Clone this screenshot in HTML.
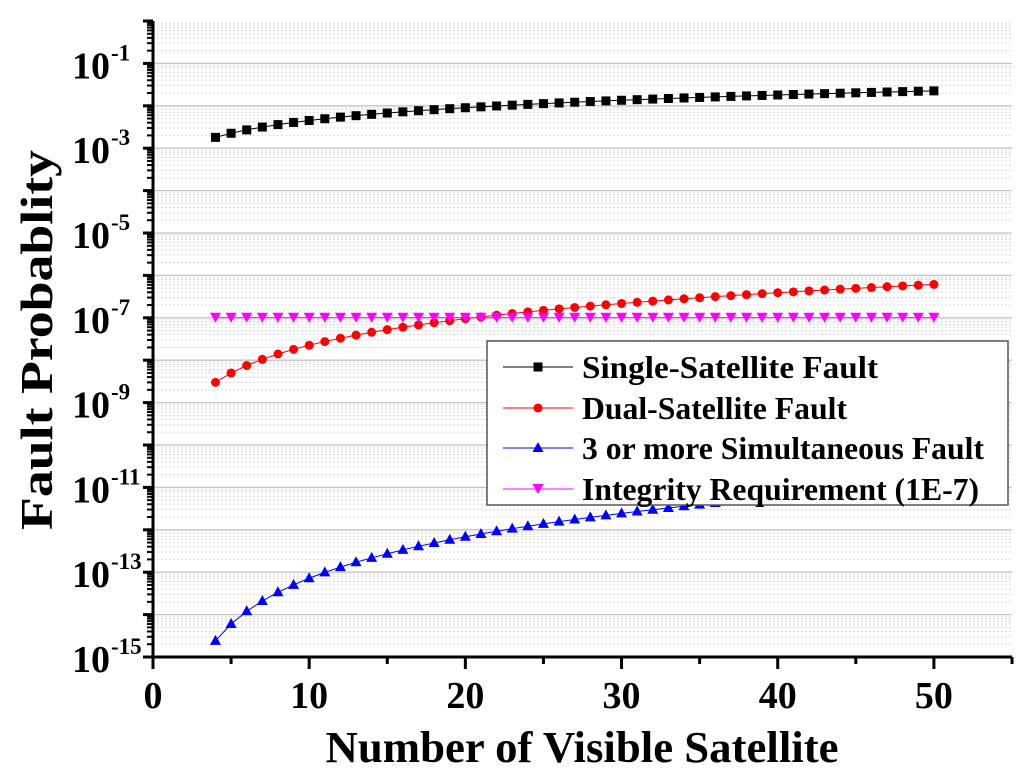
<!DOCTYPE html>
<html><head><meta charset="utf-8"><style>
body{margin:0;background:#fff;}
svg{display:block;font-family:"Liberation Serif",serif;font-weight:bold;}
</style></head><body>
<svg id="chart" width="1024" height="776" viewBox="0 0 1024 776" xmlns="http://www.w3.org/2000/svg">
<g id="grid"></g>
<g id="series"></g>
<g id="axes"></g>
<g id="legend"></g>
<text x="582" y="762" text-anchor="middle" font-size="44" textLength="513" lengthAdjust="spacingAndGlyphs">Number of Visible Satellite</text>
<text transform="translate(52,340) rotate(-90)" text-anchor="middle" font-size="46" textLength="380" lengthAdjust="spacingAndGlyphs">Fault Probablity</text>
</svg>
<script>
const satCounts = [4,5,6,7,8,9,10,11,12,13,14,15,16,17,18,19,20,21,22,23,24,25,26,27,28,29,30,31,32,33,34,35,36,37,38,39,40,41,42,43,44,45,46,47,48,49,50];
const singleFault = [1.8e-3,2.25e-3,2.7e-3,3.15e-3,3.6e-3,4.05e-3,4.5e-3,4.95e-3,5.4e-3,5.85e-3,6.3e-3,6.75e-3,7.2e-3,7.65e-3,8.1e-3,8.55e-3,9.0e-3,9.45e-3,9.9e-3,1.035e-2,1.08e-2,1.125e-2,1.17e-2,1.215e-2,1.26e-2,1.305e-2,1.35e-2,1.395e-2,1.44e-2,1.485e-2,1.53e-2,1.575e-2,1.62e-2,1.665e-2,1.71e-2,1.755e-2,1.8e-2,1.845e-2,1.89e-2,1.935e-2,1.98e-2,2.025e-2,2.07e-2,2.115e-2,2.16e-2,2.205e-2,2.25e-2];
const dualFault = [3.0e-9,5.0e-9,7.5e-9,1.05e-8,1.4e-8,1.8e-8,2.25e-8,2.75e-8,3.3e-8,3.9e-8,4.55e-8,5.25e-8,6.0e-8,6.8e-8,7.65e-8,8.55e-8,9.5e-8,1.05e-7,1.155e-7,1.265e-7,1.38e-7,1.5e-7,1.625e-7,1.755e-7,1.89e-7,2.03e-7,2.175e-7,2.325e-7,2.48e-7,2.64e-7,2.805e-7,2.975e-7,3.15e-7,3.33e-7,3.515e-7,3.705e-7,3.9e-7,4.1e-7,4.305e-7,4.515e-7,4.73e-7,4.95e-7,5.175e-7,5.405e-7,5.64e-7,5.88e-7,6.125e-7];
const tripleFault = [2.4e-15,6e-15,1.2e-14,2.1e-14,3.36e-14,5.04e-14,7.2e-14,9.9e-14,1.32e-13,1.716e-13,2.184e-13,2.73e-13,3.36e-13,4.08e-13,4.896e-13,5.814e-13,6.84e-13,7.98e-13,9.24e-13,1.0626e-12,1.2144e-12,1.38e-12,1.56e-12,1.755e-12,1.9656e-12,2.1924e-12,2.436e-12,2.697e-12,2.976e-12,3.2736e-12,3.5904e-12,3.927e-12,4.284e-12,4.662e-12,5.0616e-12,5.4834e-12,5.928e-12,6.396e-12,6.888e-12,7.4046e-12,7.9464e-12,8.514e-12,9.108e-12,9.729e-12,1.03776e-11,1.10544e-11,1.176e-11];
const integrityReq = [1e-7,1e-7,1e-7,1e-7,1e-7,1e-7,1e-7,1e-7,1e-7,1e-7,1e-7,1e-7,1e-7,1e-7,1e-7,1e-7,1e-7,1e-7,1e-7,1e-7,1e-7,1e-7,1e-7,1e-7,1e-7,1e-7,1e-7,1e-7,1e-7,1e-7,1e-7,1e-7,1e-7,1e-7,1e-7,1e-7,1e-7,1e-7,1e-7,1e-7,1e-7,1e-7,1e-7,1e-7,1e-7,1e-7,1e-7];
const xTicks = [0,10,20,30,40,50];
const yTickExps = [-1,-3,-5,-7,-9,-11,-13,-15];
const legendLabels = ["Single-Satellite Fault","Dual-Satellite Fault","3 or more Simultaneous Fault","Integrity Requirement (1E-7)"];

const NS='http://www.w3.org/2000/svg';
const L=153,R=1012,T=21,B=657;
const xMin=0,xMax=55,eMin=-15,eMax=0;
function sx(v){return L+(v-xMin)/(xMax-xMin)*(R-L);}
function sy(v){return B-(Math.log10(v)-eMin)/(eMax-eMin)*(B-T);}
function mk(tag,attrs,parent){const e=document.createElementNS(NS,tag);for(const k in attrs)e.setAttribute(k,attrs[k]);parent.appendChild(e);return e;}
const grid=document.getElementById('grid'),axes=document.getElementById('axes'),ser=document.getElementById('series'),leg=document.getElementById('legend');

for(let e=eMin;e<eMax;e++){
  for(let m=1;m<=9;m++){
    const y=sy(m*Math.pow(10,e));
    if(m===1){
      const g=mk('line',{x1:L,x2:R,y1:y,y2:y,stroke:'#c4c4c4','stroke-width':1.3},grid);
      
      
      const t=mk('line',{x1:L-10,x2:L,y1:y,y2:y,stroke:'#000','stroke-width':3},axes);
      
      
    } else {
      const g=mk('line',{x1:L,x2:R,y1:y,y2:y,stroke:'#d8d8d8','stroke-width':1,'stroke-dasharray':'2,2'},grid);
      
      
      const t=mk('line',{x1:L-6,x2:L,y1:y,y2:y,stroke:'#000','stroke-width':2},axes);
      
      
    }
  }
}
{const y=sy(1);const t=mk('line',{x1:L-10,x2:L,y1:y,y2:y,stroke:'#000','stroke-width':3},axes);
}
yTickExps.forEach(e=>{
  const y=sy(Math.pow(10,e));
  const t=mk('text',{x:110,y:y+15,'text-anchor':'end','font-size':38},axes);
  
  
  t.textContent='10';
  const s=mk('text',{x:111,y:y-3,'font-size':23},axes);
  
  
  s.textContent=String(e);
});
{const a=mk('line',{x1:L,x2:L,y1:T,y2:B+1.5,stroke:'#000','stroke-width':3},axes);

const b=mk('line',{x1:L-1.5,x2:R,y1:B,y2:B,stroke:'#000','stroke-width':3},axes);
}
for(let v=0;v<=55;v+=5){
  const x=sx(v);
  const t=mk('line',{x1:x,x2:x,y1:B,y2:B+(v%10===0?12:7),stroke:'#000','stroke-width':3},axes);
  
  
}
xTicks.forEach(v=>{
  const t=mk('text',{x:sx(v),y:B+51,'text-anchor':'middle','font-size':38},axes);
  
  
  t.textContent=String(v);
});

function marker(type,x,y,color,parent){
  let e;
  if(type==='square') e=mk('rect',{x:x-4.5,y:y-4.5,width:9,height:9,fill:color},parent);
  else if(type==='circle') e=mk('circle',{cx:x,cy:y,r:4.5,fill:color},parent);
  else if(type==='up') e=mk('polygon',{points:`${x},${y-6} ${x-5.5},${y+4} ${x+5.5},${y+4}`,fill:color},parent);
  else e=mk('polygon',{points:`${x},${y+5} ${x-5.5},${y-5} ${x+5.5},${y-5}`,fill:color},parent);
  return e;
}
const seriesList=[
  {name:'single-satellite-fault',vals:singleFault,color:'#000',m:'square'},
  {name:'dual-satellite-fault',vals:dualFault,color:'#ff0000',m:'circle'},
  {name:'triple-simultaneous-fault',vals:tripleFault,color:'#0000ff',m:'up'},
  {name:'integrity-requirement',vals:integrityReq,color:'#ff00ff',m:'down'}
];
seriesList.forEach(s=>{
  const g=mk('g',{},ser);
  
  
  const pts=satCounts.map((n,i)=>sx(n)+','+sy(s.vals[i])).join(' ');
  const pl=mk('polyline',{points:pts,fill:'none',stroke:s.color,'stroke-width':1},g);
  
  
  satCounts.forEach((n,i)=>{
    const e=marker(s.m,sx(n),sy(s.vals[i]),s.color,g);
    
    
  });
});
const legendWidths=[296,265,402,397];
{const box=mk('rect',{x:487,y:341,width:521,height:164,fill:'#fff',stroke:'#555','stroke-width':1.5},leg);

const rows=[367,408,448,489];
seriesList.forEach((s,i)=>{
  const g=mk('g',{},leg);
  
  
  const y=rows[i];
  mk('line',{x1:503,x2:573,y1:y,y2:y,stroke:s.color,'stroke-width':1},g);
  marker(s.m,538,y,s.color,g);
  const t=mk('text',{x:582,y:y+11,'font-size':32,textLength:legendWidths[i],lengthAdjust:'spacingAndGlyphs'},g);
  t.textContent=legendLabels[i];
});}
</script>
</body></html>
